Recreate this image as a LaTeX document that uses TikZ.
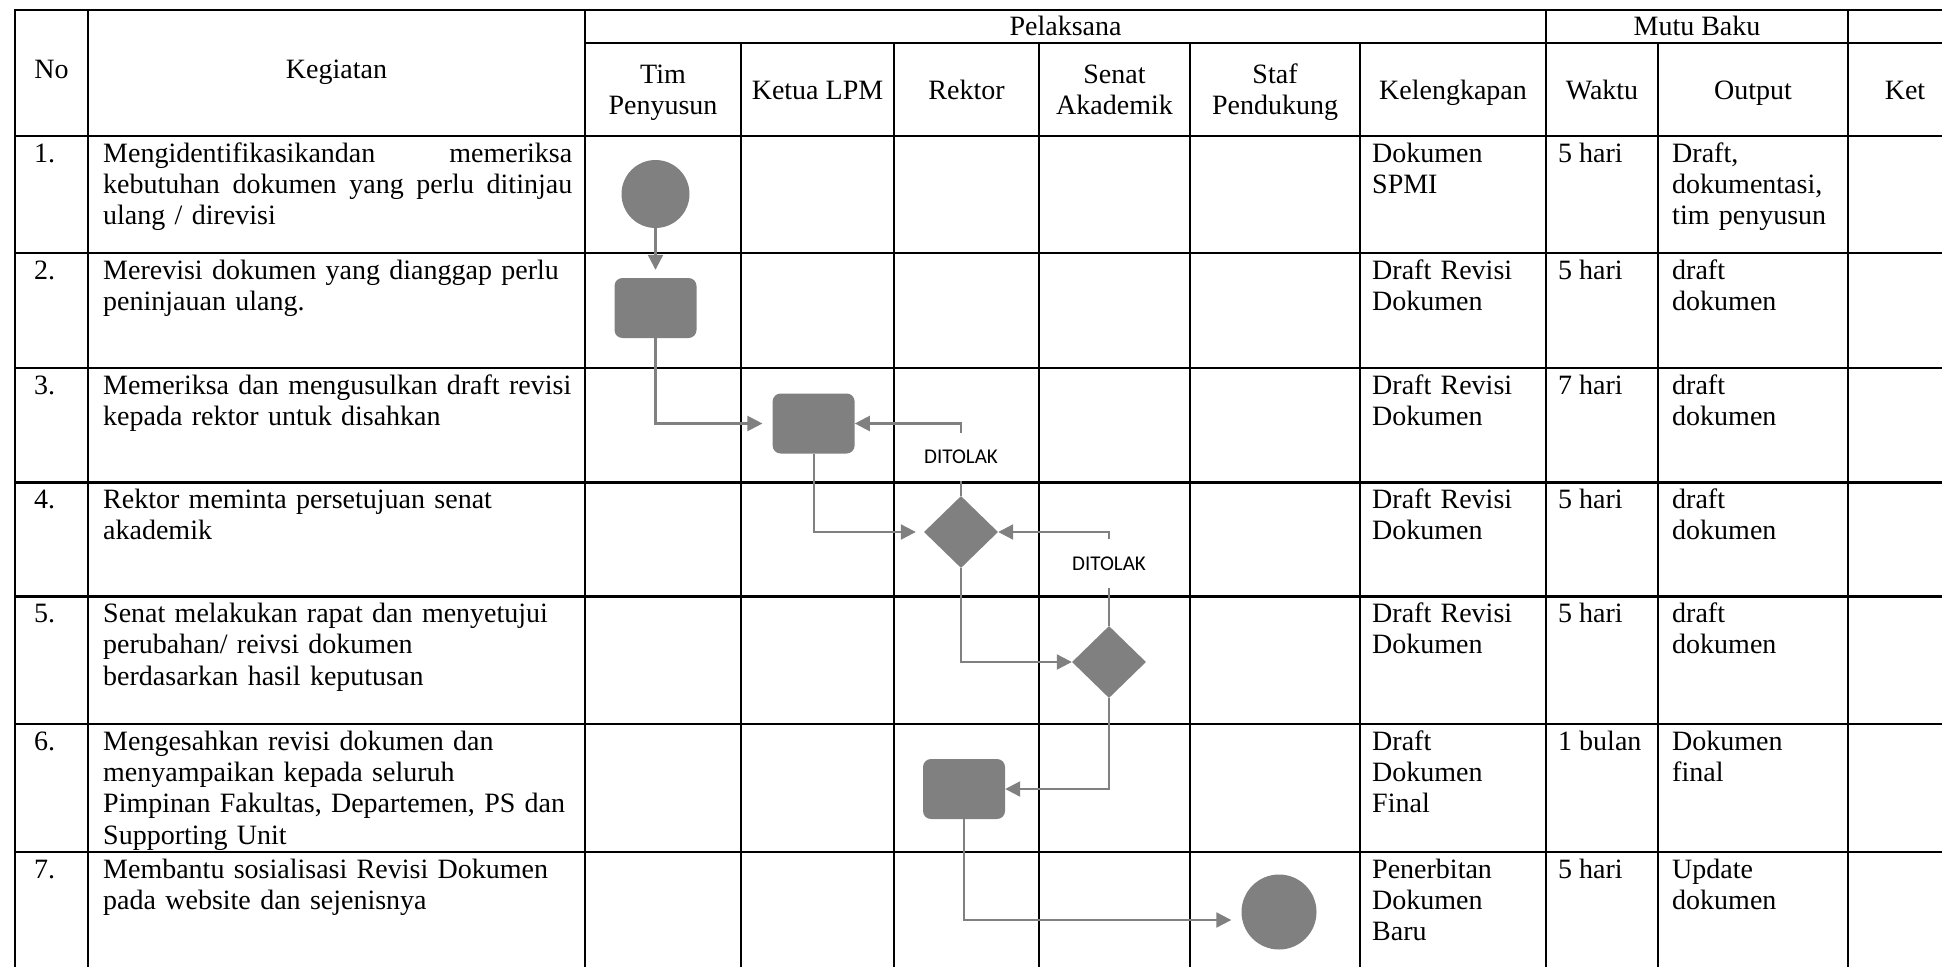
\documentclass[tikz,border=0pt]{standalone}
\usepackage{fontspec}
\setmainfont{Liberation Serif}
\newfontfamily\lblfont{Carlito}
\usetikzlibrary{shapes.geometric,arrows.meta}
\definecolor{shp}{HTML}{808080}
\tikzset{
  tablerule/.style={line width=2.7pt, black, line cap=rect},
  txt/.style={anchor=base west, inner sep=0pt, font=\fontsize{28}{31.4}\selectfont, align=left},
  hdr/.style={anchor=base, inner sep=0pt, font=\fontsize{28}{31.4}\selectfont, align=center},
  conn/.style={draw=shp, line width=2.2pt, -{Triangle[length=15pt,width=15pt]}},
  link/.style={draw=shp, line width=2.2pt},
  startend/.style={circle, fill=shp, inner sep=0pt},
  procbox/.style={rectangle, rounded corners=8pt, fill=shp, minimum width=82pt, minimum height=60pt, inner sep=0pt},
  decide/.style={diamond, fill=shp, minimum width=74pt, minimum height=72pt, inner sep=0pt},
  rejlabel/.style={font=\lblfont\fontsize{21}{24}\selectfont, text height=13.5pt, text depth=0pt, minimum height=48pt, inner ysep=0pt, inner xsep=2pt}
}
\begin{document}
\begin{tikzpicture}[x=1pt,y=-1pt]
\useasboundingbox (0,0) rectangle (1942,966);
% ---------- table grid ----------
\draw[tablerule] (15,10) -- (1990,10);
\draw[tablerule] (585,43) -- (1990,43);
\draw[tablerule] (15,136) -- (1990,136);
\foreach \yy in {253,368,482.5,596.5,724,852}{\draw[tablerule] (15,\yy) -- (1990,\yy);}
\foreach \xx in {15,88,585,1546,1848}{\draw[tablerule] (\xx,10) -- (\xx,1000);}
\foreach \xx in {741,894,1039,1190,1360,1658}{\draw[tablerule] (\xx,43) -- (\xx,1000);}
% ---------- header ----------
\node[hdr] (hno) at (51.5,78) {No};
\node[hdr] (hkeg) at (336.5,78) {Kegiatan};
\node[hdr] (hpel) at (1065.5,36) {Pelaksana};
\node[hdr] (hmutu) at (1697,36) {Mutu Baku};
\node[hdr, text width=150pt] (htim) at (663,83) {Tim\\Penyusun};
\node[hdr] (hlpm) at (817.5,99.5) {Ketua LPM};
\node[hdr] (hrek) at (966.5,99.5) {Rektor};
\node[hdr, text width=145pt] (hsen) at (1114.5,83) {Senat\\Akademik};
\node[hdr, text width=165pt] (hstaf) at (1275,83) {Staf\\Pendukung};
\node[hdr] (hkel) at (1453,99.5) {Kelengkapan};
\node[hdr] (hwak) at (1602,99.5) {Waktu};
\node[hdr] (hout) at (1753,99.5) {Output};
\node[hdr] (hket) at (1905,99.5) {Ket};
% ---------- row 1 ----------
\node[txt] (n1) at (34,162) {1.};
\node[txt, text width=469pt] (k1) at (103,162) {\makebox[469pt][l]{Mengidentifikasikandan\hfill memeriksa}\\\makebox[469pt][l]{kebutuhan\hfill dokumen\hfill yang\hfill perlu\hfill ditinjau}\\ulang / direvisi};
\node[txt, text width=165pt] (l1k) at (1372,162) {Dokumen\\SPMI};
\node[txt] (w1) at (1558,162) {5 hari};
\node[txt, text width=178pt] (o1) at (1672,162) {Draft,\\dokumentasi,\\tim penyusun};
% ---------- row 2 ----------
\node[txt] (n2) at (34,279) {2.};
\node[txt, text width=469pt] (k2) at (103,279) {Merevisi dokumen yang dianggap perlu\\peninjauan ulang.};
\node[txt, text width=165pt] (l2k) at (1372,279) {Draft Revisi\\Dokumen};
\node[txt] (w2) at (1558,279) {5 hari};
\node[txt, text width=178pt] (o2) at (1672,279) {draft\\dokumen};
% ---------- row 3 ----------
\node[txt] (n3) at (34,394) {3.};
\node[txt, text width=469pt] (k3) at (103,394) {Memeriksa dan mengusulkan draft revisi\\kepada rektor untuk disahkan};
\node[txt, text width=165pt] (l3k) at (1372,394) {Draft Revisi\\Dokumen};
\node[txt] (w3) at (1558,394) {7 hari};
\node[txt, text width=178pt] (o3) at (1672,394) {draft\\dokumen};
% ---------- row 4 ----------
\node[txt] (n4) at (34,508.5) {4.};
\node[txt, text width=469pt] (k4) at (103,508.5) {Rektor meminta persetujuan senat\\akademik};
\node[txt, text width=165pt] (l4k) at (1372,508.5) {Draft Revisi\\Dokumen};
\node[txt] (w4) at (1558,508.5) {5 hari};
\node[txt, text width=178pt] (o4) at (1672,508.5) {draft\\dokumen};
% ---------- row 5 ----------
\node[txt] (n5) at (34,622.5) {5.};
\node[txt, text width=469pt] (k5) at (103,622.5) {Senat melakukan rapat dan menyetujui\\perubahan/ reivsi dokumen\\berdasarkan hasil keputusan};
\node[txt, text width=165pt] (l5k) at (1372,622.5) {Draft Revisi\\Dokumen};
\node[txt] (w5) at (1558,622.5) {5 hari};
\node[txt, text width=178pt] (o5) at (1672,622.5) {draft\\dokumen};
% ---------- row 6 ----------
\node[txt] (n6) at (34,750) {6.};
\node[txt, text width=469pt] (k6) at (103,750) {Mengesahkan revisi dokumen dan\\menyampaikan kepada seluruh\\Pimpinan Fakultas, Departemen, PS dan\\Supporting Unit};
\node[txt, text width=165pt] (l6k) at (1372,750) {Draft\\Dokumen\\Final};
\node[txt] (w6) at (1558,750) {1 bulan};
\node[txt, text width=178pt] (o6) at (1672,750) {Dokumen\\final};
% ---------- row 7 ----------
\node[txt] (n7) at (34,878) {7.};
\node[txt, text width=469pt] (k7) at (103,878) {Membantu sosialisasi Revisi Dokumen\\pada website dan sejenisnya};
\node[txt, text width=165pt] (l7k) at (1372,878) {Penerbitan\\Dokumen\\Baru};
\node[txt] (w7) at (1558,878) {5 hari};
\node[txt, text width=178pt] (o7) at (1672,878) {Update\\dokumen};
% ---------- flow shapes ----------
\node[startend, minimum size=68pt] (c1) at (655.5,194) {};
\node[procbox] (r2) at (655.5,308) {};
\node[procbox] (r3) at (813.6,423.5) {};
\node[decide] (d1) at (961,532) {};
\node[decide] (d2) at (1109,662) {};
\node[procbox] (r6) at (964,789) {};
\node[startend, minimum size=75pt] (c2) at (1279,912) {};
\node[rejlabel] (lab1) at (961,457) {DITOLAK};
\node[rejlabel] (lab2) at (1109,563.5) {DITOLAK};
% ---------- connectors ----------
\draw[conn, shorten >=8pt] (c1.south) -- (r2.north);
\draw[conn, shorten >=10pt] (r2.south) |- (r3.west);
\draw[link] (d1.north) -- (lab1.south);
\draw[conn] (lab1.north) |- (r3.east);
\draw[conn, shorten >=8pt] (r3.south) |- (d1.west);
\draw[link] (d2.north) -- (lab2.south);
\draw[conn] (lab2.north) |- (d1.east);
\draw[conn] (d1.south) |- (d2.west);
\draw[conn] (d2.south) |- (r6.east);
\draw[conn, shorten >=10pt] (r6.south) |- ([yshift=-8pt]c2.west);
\end{tikzpicture}
\end{document}
